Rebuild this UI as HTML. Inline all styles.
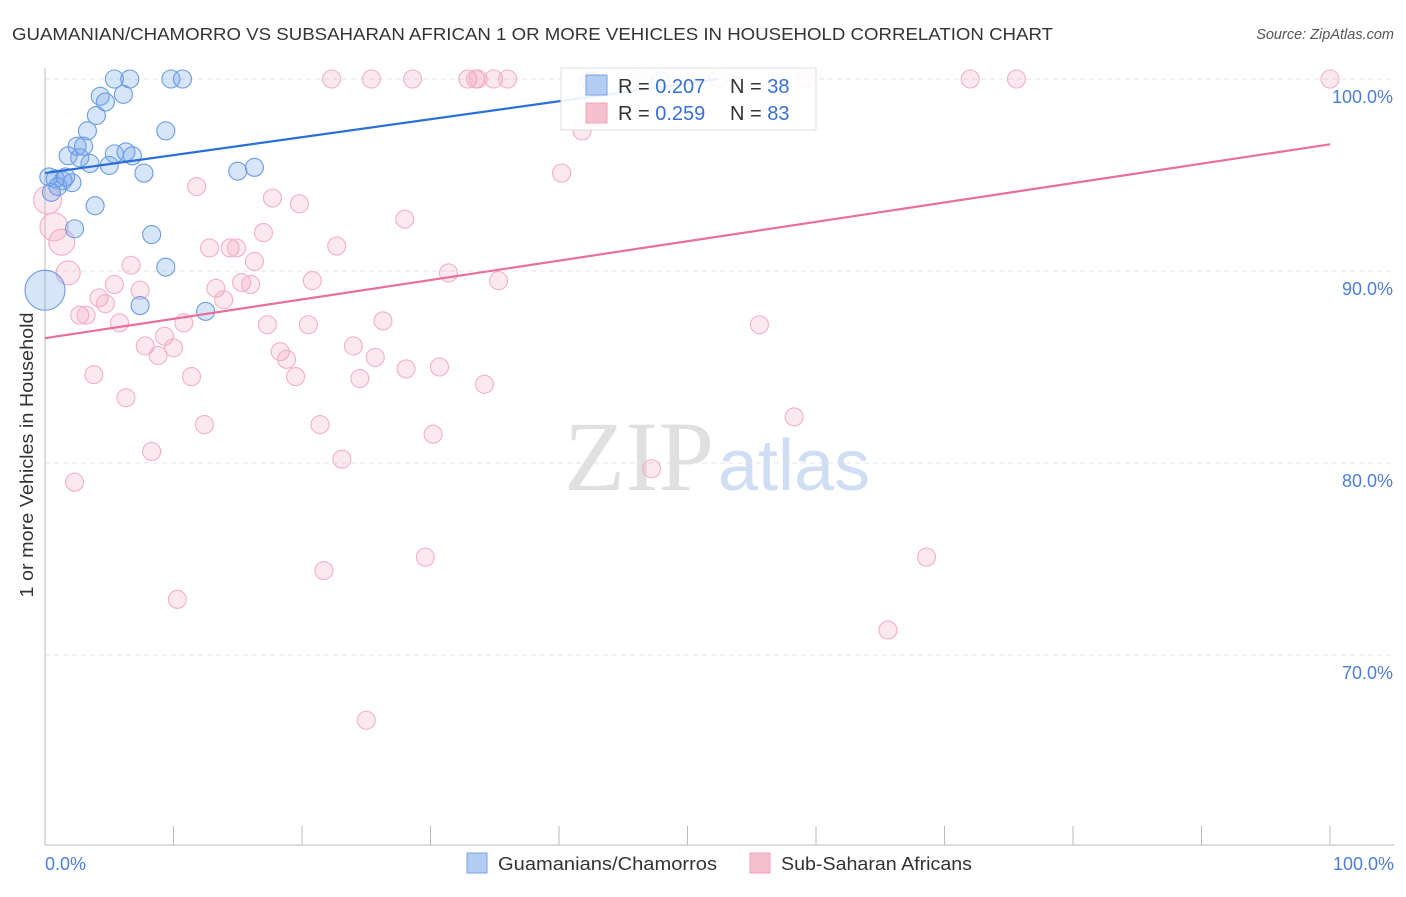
<!DOCTYPE html>
<html><head><meta charset="utf-8"><style>
body{margin:0;background:#fff;font-family:"Liberation Sans",sans-serif}
svg text{font-family:"Liberation Sans",sans-serif}
</style></head><body>
<svg width="1406" height="892" id="chart">
<text x="12" y="40" font-size="17.5" fill="#333" textLength="1041" lengthAdjust="spacingAndGlyphs">GUAMANIAN/CHAMORRO VS SUBSAHARAN AFRICAN 1 OR MORE VEHICLES IN HOUSEHOLD CORRELATION CHART</text>
<text x="1394" y="39" font-size="14.5" fill="#555" font-style="italic" text-anchor="end">Source: ZipAtlas.com</text>
<text transform="translate(33,455) rotate(-90)" font-size="18" fill="#333" text-anchor="middle" textLength="285" lengthAdjust="spacingAndGlyphs">1 or more Vehicles in Household</text>
<g opacity="0.55">
<text x="714" y="490" font-size="100" fill="#c8c8c8" text-anchor="end" style="font-family:'Liberation Serif',serif">ZIP</text>
<text x="718" y="490" font-size="72" fill="#a9c4ea">atlas</text>
</g>
<g id="grid"></g><g id="axes"></g><g id="marks"></g>
<g>
<rect x="561" y="68" width="255" height="62" fill="#fff" fill-opacity="0.9" stroke="#ddd"/>
<rect x="586" y="75" width="21" height="20" fill="#b5ccf2" stroke="#7aa3e5"/>
<rect x="586" y="103" width="21" height="20" fill="#f7c0d0" stroke="#f0a0b8"/>
<text x="618" y="93" font-size="20" fill="#333">R = <tspan fill="#3a6fd8">0.207</tspan></text>
<text x="730" y="93" font-size="20" fill="#333">N = <tspan fill="#3a6fd8">38</tspan></text>
<text x="618" y="120" font-size="20" fill="#333">R = <tspan fill="#3a6fd8">0.259</tspan></text>
<text x="730" y="120" font-size="20" fill="#333">N = <tspan fill="#3a6fd8">83</tspan></text>
</g>
<g>
<rect x="467" y="853" width="20" height="20" fill="#b5ccf2" stroke="#7aa3e5"/>
<text x="498" y="870" font-size="18" fill="#333" textLength="219" lengthAdjust="spacingAndGlyphs">Guamanians/Chamorros</text>
<rect x="750" y="853" width="20" height="20" fill="#f7c0d0" stroke="#f0a0b8"/>
<text x="781" y="870" font-size="18" fill="#333" textLength="191" lengthAdjust="spacingAndGlyphs">Sub-Saharan Africans</text>
</g>
</svg>
<script>
const blueX=[5.4,6.6,9.8,10.7,4.3,6.1,4.7,4.0,3.3,9.4,2.5,3.0,1.8,2.7,3.5,5.0,5.4,6.3,6.8,7.7,15.0,16.3,0.8,1.4,2.1,1.0,0.5,3.9,2.3,8.3,9.4,7.4,12.5,0,1.6,0.3,42.4,47.9];
const blueY=[100,100,100,100,99.1,99.2,98.8,98.1,97.3,97.3,96.5,96.5,96.0,95.9,95.6,95.5,96.1,96.2,96.0,95.1,95.2,95.4,94.8,94.7,94.6,94.4,94.1,93.4,92.2,91.9,90.2,88.2,87.9,89.0,94.9,94.9,99.9,99.9];
const blueR=[9,9,9,9,9,9,9,9,9,9,9,9,9,9,9,9,9,9,9,9,9,9,9,9,9,9,9,9,9,9,9,9,9,20,9,9,9,9];
const pinkX=[22.3,25.4,28.6,32.9,33.5,33.7,34.9,36.0,42.4,46.1,52.4,59.2,72.0,75.6,100,41.8,40.2,11.8,17.7,19.8,28.0,17.0,12.8,14.4,14.9,22.7,16.3,6.7,31.4,1.8,1.3,0.7,0.2,20.8,35.3,5.4,15.3,16.0,13.3,4.2,7.4,4.7,13.9,2.7,3.2,5.8,10.8,17.3,20.5,26.3,55.6,9.3,7.8,10.0,24.0,8.8,18.3,18.8,25.7,28.1,30.7,3.8,11.4,19.5,24.5,34.2,6.3,58.3,12.4,21.4,30.2,8.3,23.1,2.3,47.2,29.6,68.6,21.7,10.3,65.6,25.0];
const pinkY=[100,100,100,100,100,100,100,100,100,100,100,100,100,100,100,97.3,95.1,94.4,93.8,93.5,92.7,92.0,91.2,91.2,91.2,91.3,90.5,90.3,89.9,89.9,91.5,92.3,93.7,89.5,89.5,89.3,89.4,89.3,89.1,88.6,89.0,88.3,88.5,87.7,87.7,87.3,87.3,87.2,87.2,87.4,87.2,86.6,86.1,86.0,86.1,85.6,85.8,85.4,85.5,84.9,85.0,84.6,84.5,84.5,84.4,84.1,83.4,82.4,82.0,82.0,81.5,80.6,80.2,79.0,79.7,75.1,75.1,74.4,72.9,71.3,66.6];
const pinkBig=[0,0,0,0,0,0,0,0,0,0,0,0,0,0,0,0,0,0,0,0,0,0,0,0,0,0,0,0,0,12,13,14,14];
const blueTrend=[95.1,100.0,52.4];
const pinkTrend=[86.5,96.6];
const yTicks=[100,90,80,70];
const xTickLabels=["0.0%","100.0%"];
const NS="http://www.w3.org/2000/svg";
const sx=v=>45+v*12.85, sy=v=>79+(100-v)*19.2;
function mk(t,a,p){const e=document.createElementNS(NS,t);for(const k in a)e.setAttribute(k,a[k]);p.appendChild(e);return e;}
const grid=document.getElementById('grid'),axes=document.getElementById('axes'),marks=document.getElementById('marks');
yTicks.forEach(v=>{
 const l=mk('line',{x1:45,x2:1394,y1:sy(v),y2:sy(v),stroke:'#e3e3e3','stroke-dasharray':'5,4'},grid);
 
 
 const t=mk('text',{x:1393,y:sy(v)+24,'font-size':18,fill:'#4a7fdc','text-anchor':'end'},axes);
 t.textContent=v.toFixed(1)+'%';
 
 
});
const al=mk('line',{x1:45,x2:45,y1:68,y2:845,stroke:'#bbb'},axes);


const bl=mk('line',{x1:45,x2:1394,y1:845,y2:845,stroke:'#bbb'},axes);


for(let i=0;i<=10;i++){const tk=mk('line',{x1:sx(i*10),x2:sx(i*10),y1:826,y2:845,stroke:'#bbb'},axes);
 
 }
[[0,'start',45],[1,'end',1394]].forEach(([i,a,x])=>{const t=mk('text',{x:x,y:870,'font-size':18,fill:'#4a7fdc','text-anchor':a},axes);t.textContent=xTickLabels[i];
 
 });
pinkX.forEach((x,i)=>{const c=mk('circle',{cx:sx(x),cy:sy(pinkY[i]),r:pinkBig[i]||9,fill:'rgba(242,150,180,0.22)',stroke:'#f4b0c5','stroke-width':1.1},marks);
 
 });
blueX.forEach((x,i)=>{const c=mk('circle',{cx:sx(x),cy:sy(blueY[i]),r:blueR[i],fill:'rgba(110,160,235,0.28)',stroke:'#6c9ce3','stroke-width':1.1},marks);
 
 });
const pt=mk('line',{x1:sx(0),y1:sy(pinkTrend[0]),x2:sx(100),y2:sy(pinkTrend[1]),stroke:'#e8709a','stroke-width':2.2},marks);


const bt=mk('line',{x1:sx(0),y1:sy(blueTrend[0]),x2:sx(blueTrend[2]),y2:sy(blueTrend[1]),stroke:'#2a6fd6','stroke-width':2.2},marks);


</script>
</body></html>
